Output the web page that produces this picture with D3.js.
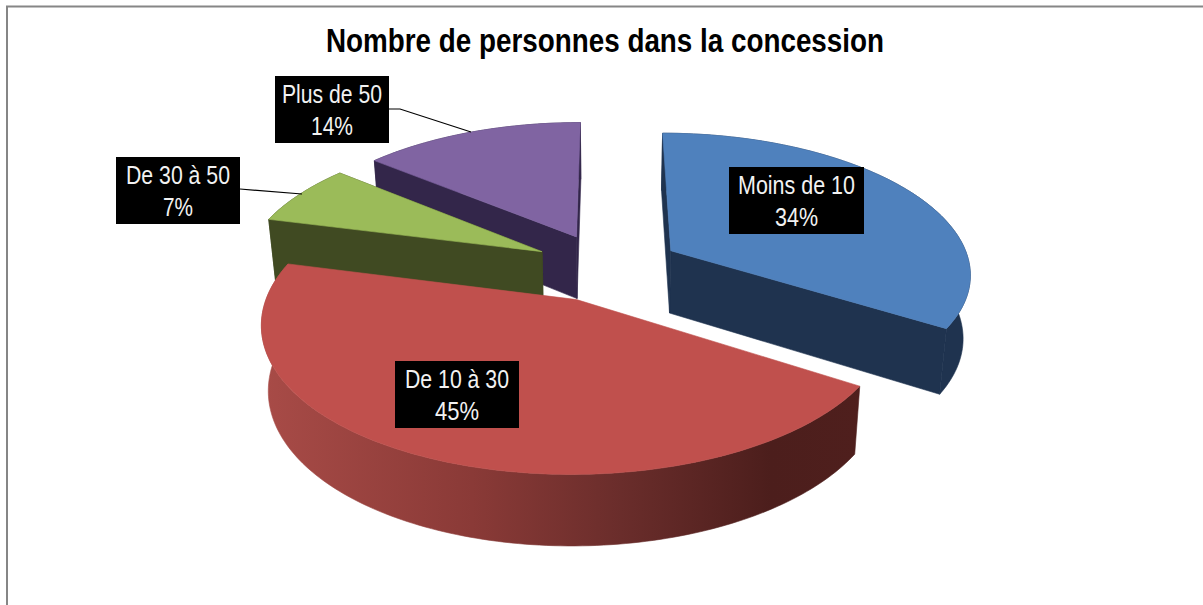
<!DOCTYPE html>
<html><head><meta charset="utf-8">
<script src="https://cdn.jsdelivr.net/npm/d3@7"></script>
<style>html,body{margin:0;padding:0;background:#fff;overflow:hidden}svg{display:block}</style>
</head><body>
<script>
const title = "Nombre de personnes dans la concession";
const categories = ["Moins de 10", "De 10 à 30", "De 30 à 50", "Plus de 50"];
const values = [34, 45, 7, 14];
const topColors = ["#4f81bd", "#c0504d", "#9bbb59", "#8064a2"];
const sideColors = ["#1f334f", "#4d1f1d", "#404a22", "#33264a"];
const labelBoxes = [[729,167,135,67],[395,361,124,67],[116,157,124,67],[275,76,114,67]];
const nameWidths = [117,104,104,100];
const pctWidths = [43,44,30,42];
const leaders = [null,null,[[240,189],[302,194]],[[389,109],[400,109],[471,132]]];

const W=1203,H=605;
const svg=d3.select("body").append("svg").attr("width",W).attr("height",H);
const defs=svg.append("defs");
const grad=defs.append("linearGradient").attr("id","redRim").attr("gradientUnits","userSpaceOnUse")
  .attr("x1",263).attr("x2",860).attr("y1",0).attr("y2",0);
[[0,"#a84b47"],[.35,"#8a3a37"],[.6,"#6a2d2b"],[.85,"#4c1e1c"],[1,"#4f1f1d"]].forEach(s=>grad.append("stop").attr("offset",s[0]).attr("stop-color",s[1]));

svg.append("path").attr("d",`M7,${H}V6.5H${W}`).attr("fill","none").attr("stroke","#868686").attr("stroke-width",2);

// perspective pie model: unit disc (u right, v toward viewer)
const perspX=0.15, perspY=0.145, explode=0.247, depth=63, bottomShrink=0.98;
const sx=d3.scaleLinear().domain([0,1]).range([607,907]);
const sy=d3.scaleLinear().domain([0,1]).range([267,406]);
const pie=d3.pie().sort(null).value(d=>d)(values);
function proj(u,v,bottom){
  const s=1/(1-perspX*v), t=1/(1-perspY*v);
  const x=sx(u*s), y=sy(v*t);
  if(!bottom) return [x,y];
  return [sx(u*s*bottomShrink), y+depth*Math.pow(t,0.65)];
}
const line=d3.line();
function arcPts(a0,a1,o,bottom){
  const n=Math.max(8,Math.ceil((a1-a0)/0.02));
  return d3.range(n+1).map(i=>{const a=a0+(a1-a0)*i/n;
    return proj(o[0]+Math.sin(a),o[1]-Math.cos(a),bottom);});
}
function quad(a,b){return line([a[0],a[1],b[1],b[0]])+"Z";}
const order=[3,2,0,1];
order.forEach(i=>{
  const d=pie[i], mid=(d.startAngle+d.endAngle)/2;
  const o=[explode*Math.sin(mid),-explode*Math.cos(mid)];
  const apexT=proj(o[0],o[1],false), apexB=proj(o[0],o[1],true);
  const topArc=arcPts(d.startAngle,d.endAngle,o,false), botArc=arcPts(d.startAngle,d.endAngle,o,true);
  const g=svg.append("g").attr("class","slice");
  const side=i===1?"url(#redRim)":sideColors[i];
  const fq=(p,c)=>g.append("path").attr("d",p).attr("fill",c).attr("stroke",c).attr("stroke-width",0.6);
  // outer rim, then radial faces, then the top
  fq(line(topArc.concat(botArc.slice().reverse()))+"Z",side);
  if(i!==1){
    fq(quad([apexT,apexB],[topArc[topArc.length-1],botArc[botArc.length-1]]),sideColors[i]);
    fq(quad([apexT,apexB],[topArc[0],botArc[0]]),sideColors[i]);
  }
  fq(line([apexT].concat(topArc))+"Z",topColors[i]);
});

// leaders
leaders.forEach(l=>{ if(l) svg.append("path").attr("d",line(l)).attr("fill","none").attr("stroke","#000").attr("stroke-width",1.2);});

// labels
const font="'Liberation Sans',sans-serif";
categories.forEach((c,i)=>{
  const b=labelBoxes[i], g=svg.append("g").attr("class","label");
  g.append("rect").attr("x",b[0]).attr("y",b[1]).attr("width",b[2]).attr("height",b[3]).attr("fill","#000");
  const cx=b[0]+b[2]/2;
  g.append("text").attr("x",cx).attr("y",b[1]+27).attr("text-anchor","middle").attr("fill","#f2f2f2")
    .attr("font-family",font).attr("font-size",26).attr("textLength",nameWidths[i]).attr("lengthAdjust","spacingAndGlyphs").text(c);
  g.append("text").attr("x",cx).attr("y",b[1]+59).attr("text-anchor","middle").attr("fill","#f2f2f2")
    .attr("font-family",font).attr("font-size",26).attr("textLength",pctWidths[i]).attr("lengthAdjust","spacingAndGlyphs").text(values[i]+"%");
});

svg.append("text").attr("x",605).attr("y",52).attr("text-anchor","middle")
  .attr("font-family",font).attr("font-weight","bold").attr("font-size",33).attr("fill","#000")
  .attr("textLength",558).attr("lengthAdjust","spacingAndGlyphs").text(title);
</script>
</body></html>
